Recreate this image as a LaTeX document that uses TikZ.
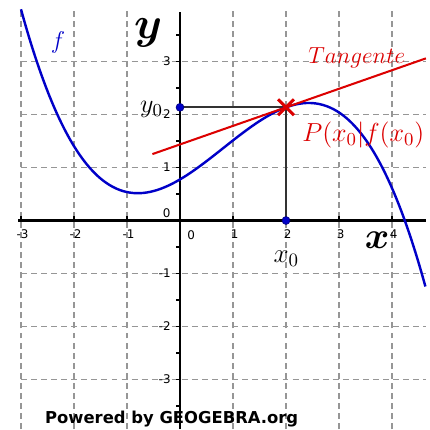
\RequirePackage{fix-cm}
\documentclass[tikz,border=0pt]{standalone}
\usepackage{bm}
\usepackage{fontspec}
\newfontfamily\tickfont{DejaVu Sans}
\newfontfamily\ggbfont{DejaVu Sans}
\definecolor{ggbblue}{RGB}{0,0,200}
\definecolor{ggbred}{RGB}{220,0,0}
\definecolor{gridgray}{RGB}{150,150,150}
\definecolor{helpline}{RGB}{50,50,50}
\begin{document}
\begin{tikzpicture}[x=1cm,y=1cm,
  declare function={fx(\t)=-0.1015*\t*\t*\t+0.2485*\t*\t+0.589*\t+0.775;},
  gridline/.style={gridgray, line width=0.7pt, dash pattern=on 3.2pt off 2.2pt},
  axisline/.style={black, line width=1.1pt},
  tickmark/.style={black, line width=0.8pt},
  ticklabel/.style={font=\tickfont\fontsize{6.4}{7}\selectfont, inner sep=0pt},
  helper/.style={helpline, line width=0.9pt},
  ggbdot/.style={circle, fill=ggbblue, draw=ggbblue!60!black, line width=0.3pt, inner sep=0pt, minimum size=0.15cm},
  mathlabel/.style={inner sep=0pt}]
\useasboundingbox (-3.396,-3.934) rectangle (4.717,4.160);
\fill[white] (-3.396,-3.934) rectangle (4.717,4.160);
% grid
\foreach \gx in {-3,-2,-1,1,2,3,4}
  \draw[gridline] (\gx,-3.934) -- (\gx,3.97);
\foreach \gy in {-3,-2,-1,1,2,3}
  \draw[gridline] (-3,\gy) -- (4.64,\gy);
% axes
\draw[axisline] (-3.05,0) -- (4.64,0);
\draw[axisline] (0,-3.934) -- (0,3.93);
\foreach \gx in {-3,-2,-1,1,2,3,4}
  \draw[tickmark] (\gx,0) -- (\gx,0.09);
\foreach \gy in {-3.5,-3,-2.5,-2,-1.5,-1,-0.5,0.5,1,1.5,2,2.5,3,3.5}
  \draw[tickmark] (0,\gy) -- (-0.08,\gy);
% tick labels
\foreach \gx/\lab in {-3/-3,-2/-2,-1/-1,1/1,2/2,3/3,4/4}
  \node[ticklabel] (xl\gx) at (\gx+0.03,-0.25) {\lab};
\node[ticklabel] (xl0) at (0.21,-0.27) {0};
\foreach \gy/\lab in {-3/-3,-2/-2,-1/-1,1/1,2/2,3/3}
  \node[ticklabel, anchor=east] (yl\gy) at (-0.17,\gy) {\lab};
\node[ticklabel] (yl0) at (-0.25,0.14) {0};
% points
\coordinate (P) at (2,2.135);
\coordinate (Y0) at (0,2.135);
\coordinate (X0) at (2,0);
\coordinate (T1) at (-0.52,1.253);
\coordinate (T2) at (4.64,3.059);
% helper lines
\draw[helper] (Y0) -- (P) -- (X0);
% curve
\draw[ggbblue, line width=1.3pt, domain=-3:4.63, samples=120, smooth] plot (\x,{fx(\x)});
% tangent
\draw[ggbred, line width=1.1pt] (T1) -- (T2);
% dots
\node[ggbdot] (dy0) at (Y0) {};
\node[ggbdot] (dx0) at (X0) {};
% cross at P
\draw[ggbred, line width=1.6pt] ([shift={(-0.15,-0.15)}]P) -- ([shift={(0.15,0.15)}]P);
\draw[ggbred, line width=1.6pt] ([shift={(-0.15,0.15)}]P) -- ([shift={(0.15,-0.15)}]P);
% labels
\node[mathlabel] (ylab) at (-0.60,3.54) {\fontsize{24}{28}\selectfont$\bm{y}$};
\node[mathlabel] (xlab) at (3.72,-0.37) {\fontsize{20}{24}\selectfont$\bm{x}$};
\node[mathlabel, text=ggbblue] (flab) at (-2.30,3.36) {\fontsize{13}{15}\selectfont$f$};
\node[mathlabel, anchor=base west] (y0lab) at (-0.76,2.04) {\fontsize{14}{16}\selectfont$y_0$};
\node[mathlabel, anchor=base west] (x0lab) at (1.76,-0.79) {\fontsize{14.5}{16}\selectfont$x_0$};
\node[mathlabel, anchor=base west, text=ggbred] (plab) at (2.30,1.487) {\fontsize{14}{16}\selectfont$P(x_0|f(x_0)$};
\node[mathlabel, anchor=base west, text=ggbred] (tlab) at (2.415,2.97) {\fontsize{12.5}{14}\selectfont$Tangente$};
\node[inner sep=0pt, anchor=base west] (powered) at (-2.55,-3.83) {\ggbfont\bfseries\fontsize{8.8}{10}\selectfont Powered by GEOGEBRA.org};
\end{tikzpicture}
\end{document}
